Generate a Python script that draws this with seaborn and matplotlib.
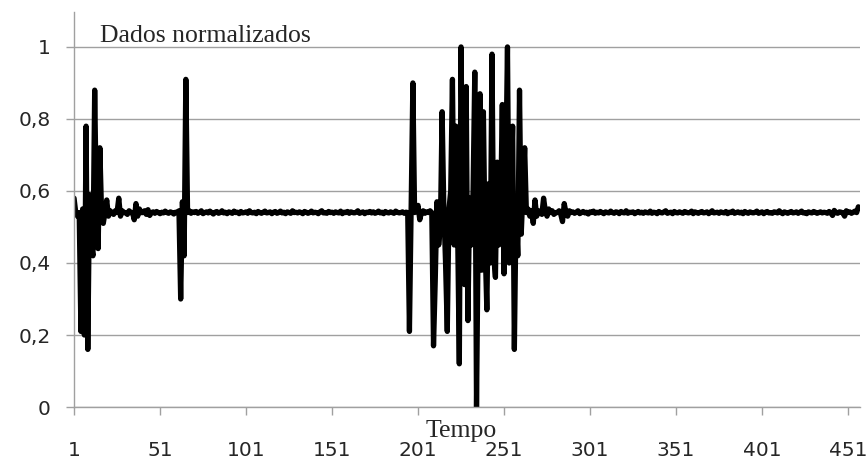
import numpy as np
import pandas as pd
import seaborn as sns
import matplotlib.pyplot as plt

# valores (indice 1..458)
inicio = [
    0.58, 0.54, 0.53, 0.54, 0.21, 0.55, 0.20, 0.78, 0.16, 0.59, 0.45, 0.42, 0.88, 0.55, 0.44, 0.72, 0.54, 0.51, 0.54, 0.575,
    0.53, 0.545, 0.54, 0.535, 0.545, 0.54, 0.58, 0.53, 0.545, 0.54, 0.54, 0.535, 0.545, 0.54, 0.54, 0.52, 0.565, 0.53, 0.55, 0.54,
    0.54, 0.545, 0.535, 0.548, 0.532, 0.54, 0.542, 0.538, 0.543, 0.54, 0.537, 0.541, 0.539, 0.544, 0.54, 0.538, 0.542, 0.54, 0.536, 0.541,
]
pico1 = [0.54, 0.545, 0.30, 0.57, 0.42, 0.91, 0.54, 0.545, 0.538, 0.542]
plano1 = [
    0.54, 0.543, 0.538, 0.541, 0.545, 0.537, 0.54, 0.542, 0.539, 0.544, 0.54, 0.536, 0.541, 0.543, 0.538, 0.54, 0.545, 0.539, 0.541, 0.537,
    0.542, 0.54, 0.538, 0.544, 0.54, 0.541, 0.537, 0.543, 0.539, 0.54, 0.542, 0.538, 0.545, 0.54, 0.539, 0.541, 0.537, 0.543, 0.54, 0.538,
    0.541, 0.544, 0.539, 0.54, 0.542, 0.537, 0.541, 0.543, 0.538, 0.54, 0.544, 0.539, 0.541, 0.537, 0.542, 0.54, 0.538, 0.545, 0.54, 0.541,
    0.539, 0.542, 0.54, 0.537, 0.543, 0.541, 0.538, 0.54, 0.544, 0.539, 0.541, 0.54, 0.537, 0.542, 0.545, 0.539, 0.54, 0.538, 0.543, 0.54,
    0.541, 0.538, 0.542, 0.54, 0.539, 0.544, 0.537, 0.541, 0.54, 0.543, 0.538, 0.542, 0.54, 0.539, 0.541, 0.545, 0.538, 0.54, 0.542, 0.537,
    0.541, 0.54, 0.543, 0.539, 0.542, 0.538, 0.54, 0.544, 0.539, 0.541, 0.537, 0.543, 0.54, 0.539, 0.542, 0.54, 0.538, 0.544, 0.541, 0.539,
    0.54, 0.542, 0.538, 0.541,
]
surto = [
    0.54, 0.21, 0.56, 0.90, 0.54,
    0.545, 0.56, 0.52, 0.54, 0.545, 0.538, 0.542, 0.54, 0.545, 0.54,
    0.17, 0.35, 0.57, 0.45, 0.50, 0.82, 0.55, 0.40, 0.21,
    0.55, 0.60, 0.91, 0.45, 0.78, 0.50, 0.12, 1.00, 0.55, 0.34, 0.89, 0.24, 0.58, 0.45, 0.60, 0.93, 0.00, 0.50, 0.87, 0.38,
    0.82, 0.45, 0.27, 0.62, 0.40, 0.98, 0.42, 0.36, 0.68, 0.45, 0.55, 0.84, 0.37, 0.65, 1.00, 0.40, 0.58, 0.78, 0.16, 0.55,
    0.42, 0.88, 0.48, 0.60, 0.72, 0.54,
    0.55, 0.53, 0.545, 0.51, 0.575, 0.53, 0.545, 0.54, 0.535, 0.58, 0.545, 0.53, 0.55, 0.54, 0.545, 0.535, 0.54, 0.54, 0.545, 0.535,
    0.515, 0.565, 0.54, 0.53, 0.545, 0.54,
]
plano2 = [
    0.542, 0.538, 0.541, 0.545, 0.537, 0.54, 0.543, 0.539, 0.541, 0.536, 0.542, 0.54, 0.544, 0.538, 0.541, 0.539, 0.543, 0.54, 0.537, 0.542, 0.54,
    0.539, 0.544, 0.54, 0.538, 0.542, 0.541, 0.537, 0.543, 0.54, 0.539, 0.545, 0.538, 0.541, 0.54, 0.542, 0.537, 0.54, 0.543, 0.539, 0.541, 0.538,
    0.542, 0.54, 0.539, 0.544, 0.538, 0.541, 0.54, 0.537, 0.543, 0.54, 0.539, 0.542, 0.545, 0.538, 0.54, 0.541, 0.537, 0.543, 0.54, 0.539, 0.542,
    0.54, 0.538, 0.543, 0.541, 0.539, 0.54, 0.544, 0.537, 0.542, 0.54, 0.538, 0.541, 0.543, 0.539, 0.54, 0.542, 0.537, 0.541, 0.545, 0.539, 0.54,
    0.541, 0.538, 0.542, 0.54, 0.539, 0.543, 0.537, 0.541, 0.54, 0.544, 0.538, 0.54, 0.542, 0.539, 0.541, 0.537, 0.543, 0.54, 0.538, 0.542, 0.54,
    0.539, 0.541, 0.544, 0.538, 0.54, 0.542, 0.537, 0.541, 0.543, 0.539, 0.54, 0.538, 0.542, 0.541, 0.539, 0.545, 0.54, 0.537, 0.542, 0.54, 0.538,
    0.541, 0.543, 0.539, 0.54, 0.542, 0.538, 0.541, 0.544, 0.539, 0.54, 0.537, 0.542, 0.54, 0.539, 0.543, 0.541, 0.538, 0.54, 0.542, 0.539, 0.541,
    0.54, 0.538, 0.543, 0.539, 0.532, 0.546, 0.54, 0.538, 0.542, 0.541, 0.539, 0.53, 0.545, 0.54, 0.542, 0.538, 0.541, 0.544, 0.54, 0.556, 0.552,
]

valores = inicio + pico1 + plano1 + surto + plano2
tempo = np.arange(1, len(valores) + 1)

xticks = [1, 51, 101, 151, 201, 251, 301, 351, 401, 451]
yticks = [0, 0.2, 0.4, 0.6, 0.8, 1.0]
ylabels = ["0", "0,2", "0,4", "0,6", "0,8", "1"]

df = pd.DataFrame({"Tempo": tempo, "Valor": valores})

sns.set_style("white")
plt.rcParams["font.family"] = ["DejaVu Sans"]

fig = plt.figure(figsize=(8.67, 4.62), dpi=100)
ax = fig.add_axes([0.0854, 0.119, 0.9066, 0.855])

grid_col = "#a0a0a0"
ax.set_axisbelow(True)
ax.yaxis.grid(True, color=grid_col, lw=1.0)

sns.lineplot(data=df, x="Tempo", y="Valor", color="black", lw=3.8, ax=ax,
             solid_joinstyle="round", solid_capstyle="round")

ax.set_xlim(1, len(valores))
ax.set_ylim(0, 1.097)
ax.set_xticks(xticks)
ax.set_xticklabels([str(t) for t in xticks])
ax.set_yticks(yticks)
ax.set_yticklabels(ylabels)
ax.set_xlabel("")
ax.set_ylabel("")

for s in ["top", "right"]:
    ax.spines[s].set_visible(False)
for s in ["left", "bottom"]:
    ax.spines[s].set_color(grid_col)
    ax.spines[s].set_linewidth(1.0)

ax.tick_params(axis="x", direction="out", length=5.5, width=1, color=grid_col,
               pad=19, labelsize=14.5, bottom=True)
ax.tick_params(axis="y", direction="out", length=6, width=1, color=grid_col,
               pad=11, labelsize=14.5, left=True)

fig.text(100 / 867, 1 - 42 / 462, "Dados normalizados", family="Liberation Serif",
         fontsize=18.5, va="baseline", ha="left")
fig.text(461 / 867, 1 - 437 / 462, "Tempo", family="Liberation Serif",
         fontsize=18.5, va="baseline", ha="center")

fig.savefig("out.png", dpi=100)
